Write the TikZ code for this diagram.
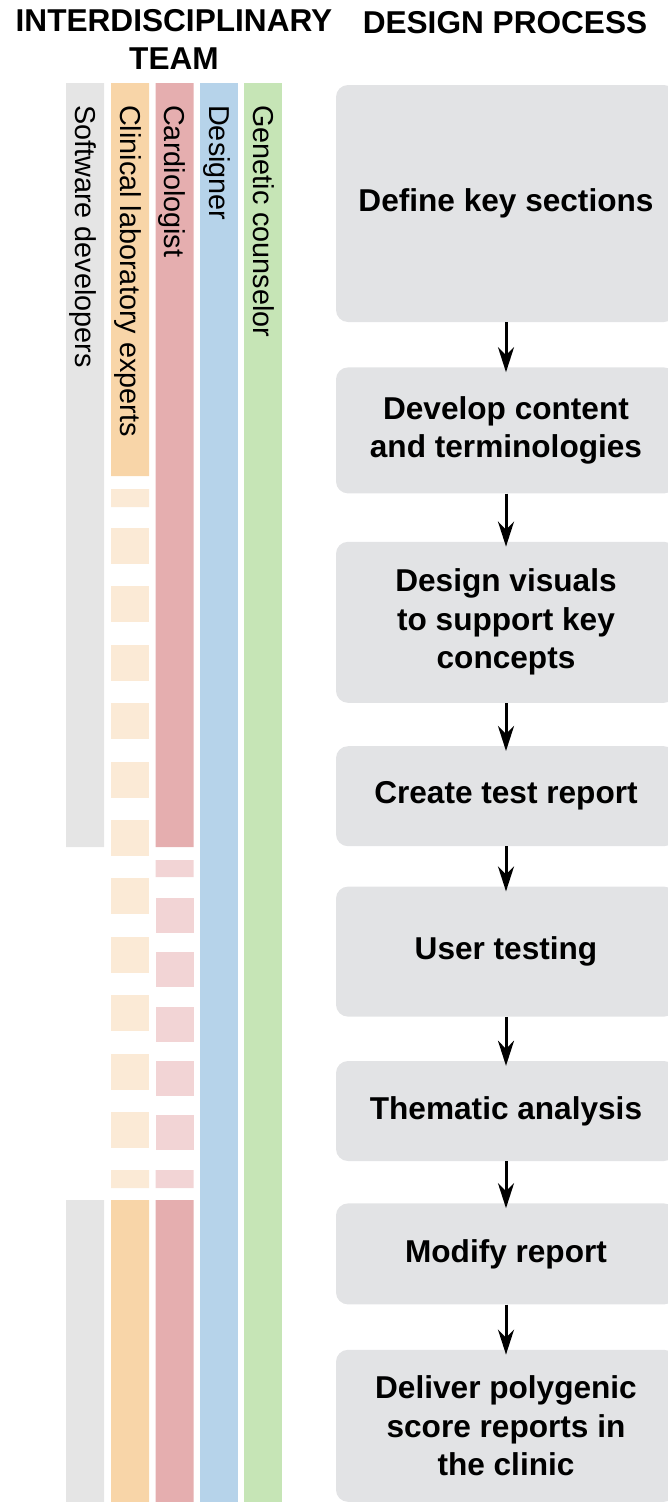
\documentclass[tikz,border=0pt]{standalone}
\usepackage{fontspec}
\setmainfont{Liberation Sans}
\usepackage{tikz}
\usetikzlibrary{arrows.meta, positioning}
\definecolor{devgray}{HTML}{E5E5E5}
\definecolor{labcol}{HTML}{F8D5A8}
\definecolor{lablight}{HTML}{FBEAD6}
\definecolor{cardcol}{HTML}{E5AEAF}
\definecolor{cardlight}{HTML}{F2D4D5}
\definecolor{descol}{HTML}{B6D3EA}
\definecolor{gencol}{HTML}{C6E5B6}
\definecolor{boxgray}{HTML}{E2E3E5}
\tikzstyle{heading}=[align=center, inner sep=0pt, font=\fontsize{31.6}{38}\selectfont\bfseries]
\tikzstyle{stepbox}=[rectangle, rounded corners=12pt, fill=boxgray, minimum width=340pt, inner sep=0pt, align=center, font=\fontsize{31.6}{38.5}\selectfont\bfseries]
\tikzstyle{role}=[rotate=-90, anchor=base west, inner sep=0pt, font=\fontsize{28.8}{34}\selectfont]
\tikzstyle{flow}=[-{Stealth[length=25pt, width=16pt, inset=8pt]}, line width=3pt, shorten >=-5pt]

\begin{document}
\begin{tikzpicture}[x=1pt, y=-1pt]
      \useasboundingbox (0,0) rectangle (668,1502);
      \clip (0,0) rectangle (668,1502);

      \node[heading] (team) at (174,39.5) {INTERDISCIPLINARY\\TEAM};
      \node[heading, anchor=base] (process) at (505,33) {DESIGN PROCESS};

      \fill[devgray] (66,83) rectangle (104,847) (66,1200) rectangle (104,1502);
      \fill[labcol] (111,83) rectangle (149,476) (111,1200) rectangle (149,1502);
      \fill[lablight] (111,489) rectangle +(38,18) (111,1170) rectangle +(38,18);
      \foreach \k in {0,...,10}
            \fill[lablight] (111,{528+58.4*\k}) rectangle +(38,36);
      \fill[cardcol] (155.5,83) rectangle (193.5,847) (155.5,1200) rectangle (193.5,1502);
      \fill[cardlight] (155.5,860) rectangle +(38,17) (155.5,1170) rectangle +(38,18);
      \foreach \k in {0,...,4}
            \fill[cardlight] (155.5,{898+54.25*\k}) rectangle +(38,35);
      \fill[descol] (200,83) rectangle (238,1502);
      \fill[gencol] (244,83) rectangle (282,1502);

      \node[role] (dev) at (75,105) {Software developers};
      \node[role] (lab) at (120,105) {Clinical laboratory experts};
      \node[role] (card) at (164.5,105) {Cardiologist};
      \node[role] (des) at (209,105) {Designer};
      \node[role] (gen) at (253,105) {Genetic counselor};

      \node[stepbox, minimum height=237pt] (s1) at (506,203.5) {Define key sections};
      \node[stepbox, minimum height=126pt] (s2) [below=45pt of s1] {Develop content\\and terminologies};
      \node[stepbox, minimum height=161pt] (s3) [below=48pt of s2] {Design visuals\\to support key\\concepts};
      \node[stepbox, minimum height=100pt] (s4) [below=43pt of s3] {Create test report};
      \node[stepbox, minimum height=130pt] (s5) [below=40pt of s4] {User testing};
      \node[stepbox, minimum height=100pt] (s6) [below=44pt of s5] {Thematic analysis};
      \node[stepbox, minimum height=101pt] (s7) [below=42pt of s6] {Modify report};
      \node[stepbox, minimum height=152pt] (s8) [below=45pt of s7] {Deliver polygenic\\score reports in\\the clinic};

      \foreach \a/\b in {s1/s2, s2/s3, s3/s4, s4/s5, s5/s6, s6/s7, s7/s8}
            \draw[flow] (\a) -- (\b);
    \end{tikzpicture}
\end{document}
